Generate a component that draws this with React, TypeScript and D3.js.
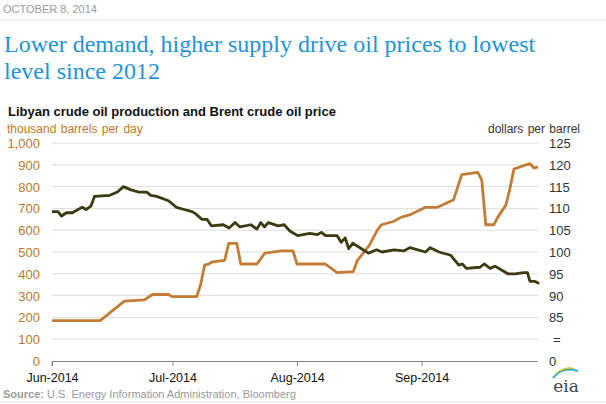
import { useRef, useEffect } from "react";
import * as d3 from "d3";

// days after Jun 1, 2014
const libyaDays = [0, 12, 15, 18, 23, 25, 29, 30, 36, 37, 38, 39, 40, 43, 44, 46, 47, 51, 53, 57, 60, 61, 68, 71, 75, 76, 79, 81, 82, 85, 87, 89, 93, 96, 100, 102, 106, 107, 108, 110, 111, 113, 114, 115, 118, 119, 120, 121];
const libyaValues = [185, 185, 230, 275, 280, 305, 305, 295, 295, 350, 440, 445, 455, 462, 540, 540, 445, 445, 495, 505, 505, 445, 445, 405, 410, 460, 530, 600, 625, 640, 660, 670, 705, 705, 740, 855, 865, 830, 625, 625, 660, 715, 790, 880, 900, 905, 885, 890];

const brentDays = [0, 1.5, 2.4, 3.6, 5.1, 7.5, 8.5, 9.7, 10.6, 14.4, 16.3, 17.8, 19.7, 21.7, 23.6, 24.6, 26.1, 29, 31, 32.9, 34.9, 35.8, 37.3, 38.6, 39.7, 42.7, 44.1, 45.6, 46.8, 49.5, 51, 52, 52.9, 53.9, 56.3, 57.8, 59.3, 61.2, 64.2, 66.1, 67.1, 68.1, 71, 72, 73, 73.9, 74.9, 78.8, 80.8, 82.2, 85.2, 87.6, 89.1, 93, 94.2, 96.4, 99.3, 101.3, 102.2, 103.2, 106.6, 107.6, 109.1, 110.3, 113.5, 115.4, 117.4, 118.4, 119, 120.3, 121.3];
const brentValues = [109.25, 109.25, 108.25, 109, 109, 110.25, 109.75, 110.5, 112.75, 113, 113.75, 115, 114.25, 113.75, 113.75, 113, 112.75, 111.75, 110.25, 109.75, 109.25, 108.75, 107.5, 107.5, 106, 106.25, 105.5, 106.75, 105.75, 106.25, 105.25, 106.75, 105.75, 106.75, 106, 106.25, 104.75, 103.75, 104.25, 104, 104.5, 103.75, 103.75, 102.25, 103.25, 100.75, 102, 99.75, 100.5, 100, 100.5, 100.25, 101, 100, 101, 100, 99.25, 97, 97.25, 96.25, 96.5, 97.25, 96.25, 96.75, 95, 95, 95.25, 95.25, 93.25, 93.25, 92.75];

const leftTicks = [0, 100, 200, 300, 400, 500, 600, 700, 800, 900, 1000];
const rightTicks = [85, 90, 95, 100, 105, 110, 115, 120, 125];
const monthTicks = ["2014-06-01", "2014-07-01", "2014-08-01", "2014-09-01"];

const W = 606, H = 404;
const start = new Date(2014, 5, 1);

export default function App() {
  const ref = useRef<SVGSVGElement>(null);

  useEffect(() => {
    const svg = d3.select(ref.current);
    svg.selectAll("*").remove();
    const sans = "Arial, 'Liberation Sans', sans-serif";

    const x = d3.scaleTime().domain([start, new Date(2014, 8, 30)]).range([52, 538]);
    const y = d3.scaleLinear().domain([0, 1000]).range([361, 143]);
    // right axis: 85 $ at 200, 125 $ at 1000
    const yr = d3.scaleLinear().domain([85, 125]).range([y(200), y(1000)]);
    const day = (d: number) => d3.timeHour.offset(start, d * 24);

    svg.append("text").attr("x", 3).attr("y", 13).attr("font-family", sans).attr("font-size", 11).attr("fill", "#999").text("OCTOBER 8, 2014");
    svg.append("line").attr("x1", 0).attr("x2", W).attr("y1", 20).attr("y2", 20).attr("stroke", "#e4e4e4");
    const title = ["Lower demand, higher supply drive oil prices to lowest", "level since 2012"];
    title.forEach((t, i) =>
      svg.append("text").attr("x", 4).attr("y", 52 + i * 27).attr("font-family", "'Liberation Serif', 'Times New Roman', serif")
        .attr("font-size", 24).attr("fill", "#1f93d6").text(t));

    svg.append("text").attr("x", 8).attr("y", 116).attr("font-family", sans).attr("font-size", 13).attr("font-weight", "bold").attr("fill", "#111")
      .text("Libyan crude oil production and Brent crude oil price");
    svg.append("text").attr("x", 7).attr("y", 133).attr("font-family", sans).attr("font-size", 12).attr("fill", "#c0762b").attr("word-spacing", 1)
      .text("thousand barrels per day");
    svg.append("text").attr("x", 580).attr("y", 133).attr("text-anchor", "end").attr("font-family", sans).attr("font-size", 12).attr("fill", "#333").attr("word-spacing", 1)
      .text("dollars per barrel");

    // grid
    svg.append("g").selectAll("line").data(leftTicks.filter((d) => d > 0)).join("line")
      .attr("x1", 52).attr("x2", 538).attr("y1", (d) => y(d)).attr("y2", (d) => y(d)).attr("stroke", "#dcdcdc");

    svg.append("g").selectAll("text").data(leftTicks).join("text")
      .attr("x", 40).attr("y", (d) => y(d) + 5).attr("text-anchor", "end").attr("font-family", sans).attr("font-size", 13).attr("fill", "#c0762b")
      .text((d) => d3.format(",")(d));
    svg.append("g").selectAll("text").data(rightTicks).join("text")
      .attr("x", 549).attr("y", (d) => yr(d) + 5).attr("font-family", sans).attr("font-size", 13).attr("fill", "#333").text((d) => d);
    svg.append("text").attr("x", 553).attr("y", y(100) + 5).attr("font-family", sans).attr("font-size", 13).attr("fill", "#333").text("=");
    svg.append("text").attr("x", 549).attr("y", y(0) + 5).attr("font-family", sans).attr("font-size", 13).attr("fill", "#333").text("0");

    // x axis
    const ax = svg.append("g").attr("transform", `translate(0,${y(0)})`)
      .call(d3.axisBottom(x).tickValues(monthTicks.map((s) => d3.timeParse("%Y-%m-%d")(s) as Date)).tickSize(5).tickPadding(7)
        .tickFormat((d) => d3.timeFormat("%b-%Y")(d as Date)));
    ax.select(".domain").attr("stroke", "#888").attr("d", "M52,0.5V5M52,0.5H538");
    ax.selectAll(".tick line").attr("stroke", "#888");
    ax.selectAll(".tick text").attr("fill", "#111").attr("font-family", sans).attr("font-size", 12.5);

    const line = d3.line<[number, number]>().x((d) => x(day(d[0]))).y((d) => d[1]);
    svg.append("path").datum(libyaDays.map((d, i) => [d, y(libyaValues[i])] as [number, number]))
      .attr("fill", "none").attr("stroke", "#c47c35").attr("stroke-width", 2.8).attr("stroke-linejoin", "round").attr("d", line);
    svg.append("path").datum(brentDays.map((d, i) => [d, yr(brentValues[i])] as [number, number]))
      .attr("fill", "none").attr("stroke", "#3b3b12").attr("stroke-width", 2.8).attr("stroke-linejoin", "round").attr("d", line);

    const src = svg.append("text").attr("x", 3).attr("y", 398).attr("font-family", sans).attr("font-size", 11).attr("fill", "#999");
    src.append("tspan").attr("font-weight", "bold").text("Source: ");
    src.append("tspan").text("U.S. Energy Information Administration, Bloomberg");
    svg.append("line").attr("x1", 0).attr("x2", W).attr("y1", 402).attr("y2", 402).attr("stroke", "#e4e4e4");

    // eia logo
    svg.append("text").attr("x", 566).attr("y", 392).attr("text-anchor", "middle").attr("font-family", "Georgia, 'DejaVu Serif', serif")
      .attr("font-size", 17).attr("fill", "#444").text("eia");
    svg.append("path").attr("d", "M553,378 Q562,366 578,371").attr("fill", "none").attr("stroke", "#2aa3d8").attr("stroke-width", 2);
    svg.append("path").attr("d", "M556,374 Q564,366 574,369").attr("fill", "none").attr("stroke", "#8cc63e").attr("stroke-width", 1.5);
    svg.append("path").attr("d", "M560,371 Q566,367 572,368").attr("fill", "none").attr("stroke", "#f2c230").attr("stroke-width", 1.2);
  }, []);

  return <svg ref={ref} width={W} height={H} style={{ display: "block", position: "absolute", left: 0, top: 0, background: "#fff" }} />;
}
